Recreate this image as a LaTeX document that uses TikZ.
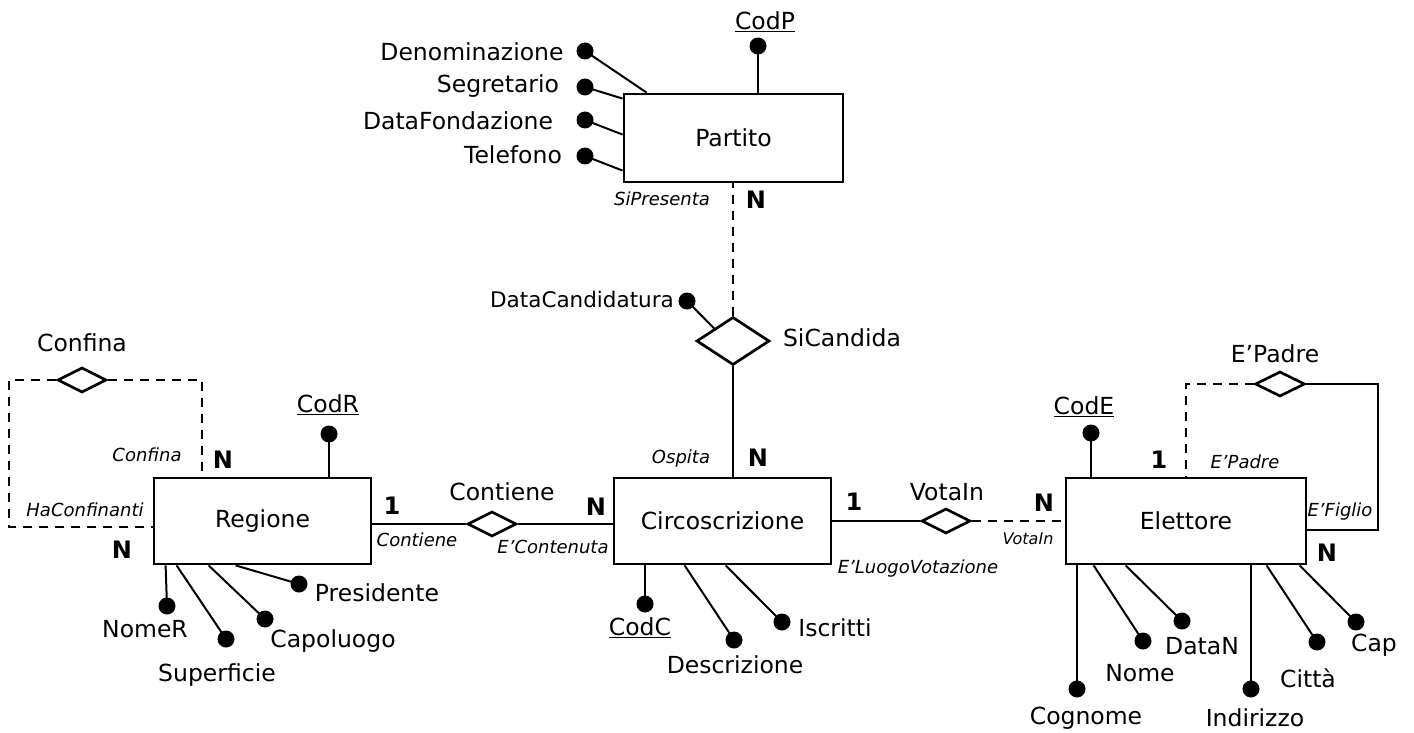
\documentclass[tikz,border=0pt]{standalone}
\usepackage{fontspec}
\setmainfont{DejaVu Sans}
\usetikzlibrary{shapes.geometric}
\begin{document}
\begin{tikzpicture}[x=1pt,y=-1pt,
 every node/.style={font=\fontsize{23.5}{28}\selectfont, inner sep=0pt},
 entity/.style={draw, line width=2.8pt, rectangle, minimum height=86pt},
 rel/.style={draw, line width=2.7pt, diamond, minimum width=49pt, minimum height=25pt, inner sep=0pt},
 dot/.style={circle, fill=black, minimum size=17pt, inner sep=0pt},
 attr/.style={line width=2pt},
 link/.style={line width=2.7pt},
 weak/.style={line width=2.7pt, dash pattern=on 9pt off 7pt},
 card/.style={font=\fontsize{24}{28}\selectfont\bfseries},
 role/.style={font=\fontsize{18}{22}\selectfont\itshape},
 smallrole/.style={font=\fontsize{16}{20}\selectfont\itshape}]
\useasboundingbox (0,0) rectangle (1414,733);
\fill[white] (0,0) rectangle (1414,733);

% entities
\node[entity, minimum width=219pt, minimum height=88pt] (Partito) at (733.5,138) {Partito};
\node[entity, minimum width=217pt] (Regione) at (262.5,521) {Regione};
\node[entity, minimum width=217pt] (Circ) at (722.5,521) {Circoscrizione};
\node[entity, minimum width=240pt] (Elettore) at (1186,521) {Elettore};

% relationships
\node[rel, minimum width=73pt, minimum height=48pt] (SiCandida) at (733,341) {};
\node[rel] (Contiene) at (492,524) {};
\node[rel] (VotaIn) at (946,521) {};
\node[rel] (Confina) at (82,380) {};
\node[rel, minimum width=50pt] (EPadre) at (1280,384) {};

% relationship labels
\node (lSiCandida) at (842,338) {SiCandida};
\node (lContiene) at (502,492) {Contiene};
\node (lVotaIn) at (947,492) {VotaIn};
\node (lConfina) at (82,343) {Confina};
\node (lEPadre) at (1275,354) {E’Padre};

% connectors
\draw[weak] (SiCandida.north) -- (SiCandida.north |- Partito.south);
\draw[link] (SiCandida.south) -- (SiCandida.south |- Circ.north);
\draw[link] (Contiene.west) -- (Contiene.west -| Regione.east);
\draw[link] (Contiene.east) -- (Contiene.east -| Circ.west);
\draw[link] (VotaIn.west) -- (VotaIn.west -| Circ.east);
\draw[weak] (VotaIn.east) -- (VotaIn.east -| Elettore.west);

\coordinate (cl1) at (9,380);
\coordinate (cl2) at (9,527);
\coordinate (cr1) at (202,380);
\draw[weak] (Confina.west) -- (cl1) -- (cl2) -- (cl2 -| Regione.west);
\draw[weak] (Confina.east) -- (cr1) -- (cr1 |- Regione.north);

\coordinate (el1) at (1186,384);
\coordinate (er1) at (1378,384);
\coordinate (er2) at (1378,530);
\draw[weak] (EPadre.west) -- (el1) -- (el1 |- Elettore.north);
\draw[link] (EPadre.east) -- (er1) -- (er2) -- (er2 -| Elettore.east);

% cardinalities
\node[card] (c1) at (756,200) {N};
\node[card] (c2) at (758,458) {N};
\node[card] (c3) at (392,506) {1};
\node[card] (c4) at (596,507) {N};
\node[card] (c5) at (854,502) {1};
\node[card] (c6) at (1044,503) {N};
\node[card] (c7) at (223,460) {N};
\node[card] (c8) at (122,550) {N};
\node[card] (c9) at (1159,460) {1};
\node[card] (c10) at (1327,553) {N};

% roles
\node[role] (r1) at (662,199) {SiPresenta};
\node[role] (r2) at (681,459) {Ospita};
\node[role] (r3) at (417,540) {Contiene};
\node[role] (r4) at (553,547) {E’Contenuta};
\node[role] (r5) at (918,569) {E’LuogoVotazione};
\node[smallrole] (r6) at (1028,539) {VotaIn};
\node[role] (r7) at (147,455) {Confina};
\node[role] (r8) at (85,510) {HaConfinanti};
\node[role] (r9) at (1245,462) {E’Padre};
\node[role] (r10) at (1340,512) {E’Figlio};

% Partito attributes
\node[dot] (dCodP) at (758,46) {};
\node (tCodP) at (765,22) {\underline{CodP}};
\draw[attr] (dCodP.center) -- (dCodP |- Partito.north);
\node[dot] (dDen) at (585,51) {};
\node (tDen) at (472,52) {Denominazione};
\draw[attr] (dDen.center) -- ([xshift=24pt]Partito.north west);
\node[dot] (dSeg) at (585,87) {};
\node (tSeg) at (498,86) {Segretario};
\draw[attr] (dSeg.center) -- ([yshift=-6pt]Partito.north west);
\node[dot] (dDF) at (585,120) {};
\node (tDF) at (458,121) {DataFondazione};
\draw[attr] (dDF.center) -- ([yshift=-42pt]Partito.north west);
\node[dot] (dTel) at (585,156) {};
\node (tTel) at (513,155) {Telefono};
\draw[attr] (dTel.center) -- ([yshift=-78pt]Partito.north west);

% SiCandida attribute
\node[dot] (dDC) at (687,301) {};
\node[font=\fontsize{21.5}{26}\selectfont] (tDC) at (582,299) {DataCandidatura};
\draw[attr] (dDC.center) -- (SiCandida.north west);

% Regione attributes
\node[dot] (dCodR) at (329,434) {};
\node (tCodR) at (328,405) {\underline{CodR}};
\draw[attr] (dCodR.center) -- (dCodR |- Regione.north);
\node[dot] (dNomeR) at (167,606) {};
\node (tNomeR) at (145,629) {NomeR};
\draw[attr] (dNomeR.center) -- ([xshift=13pt]Regione.south west);
\node[dot] (dSup) at (226,639) {};
\node (tSup) at (217,675) {Superficie};
\draw[attr] (dSup.center) -- ([xshift=24pt]Regione.south west);
\node[dot] (dCap) at (265,619) {};
\node (tCap) at (333,641) {Capoluogo};
\draw[attr] (dCap.center) -- ([xshift=56pt]Regione.south west);
\node[dot] (dPres) at (299,584) {};
\node (tPres) at (377,593) {Presidente};
\draw[attr] (dPres.center) -- ([xshift=83pt]Regione.south west);

% Circoscrizione attributes
\node[dot] (dCodC) at (645,604) {};
\node (tCodC) at (640,628) {\underline{CodC}};
\draw[attr] (dCodC.center) -- (dCodC |- Circ.south);
\node[dot] (dDesc) at (734,640) {};
\node (tDesc) at (735,665) {Descrizione};
\draw[attr] (dDesc.center) -- ([xshift=72pt]Circ.south west);
\node[dot] (dIsc) at (782,622) {};
\node (tIsc) at (835,628) {Iscritti};
\draw[attr] (dIsc.center) -- ([xshift=113pt]Circ.south west);

% Elettore attributes
\node[dot] (dCodE) at (1091,433) {};
\node (tCodE) at (1084,407) {\underline{CodE}};
\draw[attr] (dCodE.center) -- (dCodE |- Elettore.north);
\node[dot] (dCog) at (1077,689) {};
\node (tCog) at (1086,718) {Cognome};
\draw[attr] (dCog.center) -- (dCog |- Elettore.south);
\node[dot] (dNome) at (1143,641) {};
\node (tNome) at (1140,673) {Nome};
\draw[attr] (dNome.center) -- ([xshift=29pt]Elettore.south west);
\node[dot] (dDataN) at (1182,621) {};
\node (tDataN) at (1202,646) {DataN};
\draw[attr] (dDataN.center) -- ([xshift=61pt]Elettore.south west);
\node[dot] (dInd) at (1251,689) {};
\node (tInd) at (1255,718) {Indirizzo};
\draw[attr] (dInd.center) -- (dInd |- Elettore.south);
\node[dot] (dCitta) at (1317,642) {};
\node (tCitta) at (1308,678) {Città};
\draw[attr] (dCitta.center) -- ([xshift=202pt]Elettore.south west);
\node[dot] (dCapE) at (1356,622) {};
\node (tCapE) at (1374,645) {Cap};
\draw[attr] (dCapE.center) -- ([xshift=235pt]Elettore.south west);
\end{tikzpicture}
\end{document}
